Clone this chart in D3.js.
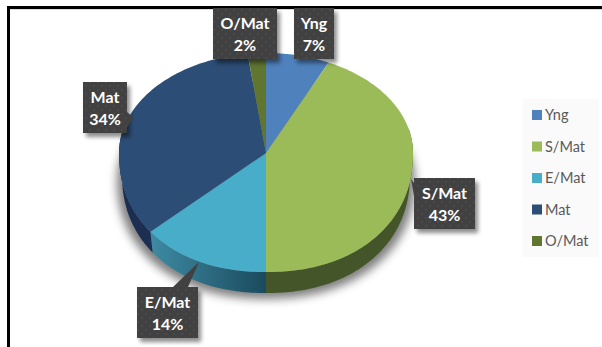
<!DOCTYPE html>
<html><head><meta charset="utf-8">
<script src="https://cdn.jsdelivr.net/npm/d3@7"></script>
<style>html,body{margin:0;padding:0;background:#fff}svg{display:block}</style>
</head><body><svg id="c" width="602" height="347"></svg>
<script>
const categories = ["Yng","S/Mat","E/Mat","Mat","O/Mat"];
const shares = [7,43,14,34,2];
const faceColors = ["#4f81bd","#9bbb59","#47adc9","#2c4d75","#5f7530"];
const wallColors = ["#2c4d75","#45552a","url(#tealWall)","#1c2f52","#3a481e"];
const labelBoxes = [[294,8,40,51],[414,178,61,51],[137,287,61,51],[83,82,44,51],[213,8,64,51]];
const pointers = [null,[[414,183],[411,179],[414,196]],[[173,287],[199,262],[188,287]],[[127,112],[134,118],[127,127]],null];

const svg = d3.select("#c");
const defs = svg.append("defs");
const blur = (id,s)=>defs.append("filter").attr("id",id).attr("x","-30%").attr("y","-30%").attr("width","160%").attr("height","160%")
  .append("feGaussianBlur").attr("stdDeviation",s);
blur("soft",5); blur("boxSoft",2);
const tg = defs.append("linearGradient").attr("id","tealWall").attr("gradientUnits","userSpaceOnUse")
  .attr("x1",145).attr("x2",266).attr("y1",0).attr("y2",0);
tg.append("stop").attr("offset",0).attr("stop-color","#3f8ea6");
tg.append("stop").attr("offset",1).attr("stop-color","#1b4a5e");
const pat = defs.append("pattern").attr("id","dots").attr("width",8).attr("height",8).attr("patternUnits","userSpaceOnUse");
pat.append("rect").attr("width",8).attr("height",8).attr("fill","#414141");
pat.append("circle").attr("cx",2).attr("cy",2).attr("r",.7).attr("fill","#585858");
pat.append("circle").attr("cx",6).attr("cy",6).attr("r",.7).attr("fill","#585858");

// frame
svg.append("rect").attr("x",7).attr("y",9).attr("width",595).attr("height",1).attr("fill","#ddd");
svg.append("rect").attr("x",7).attr("y",6).attr("width",595).attr("height",3).attr("fill","#000");
svg.append("rect").attr("x",7).attr("y",6).attr("width",3).attr("height",341).attr("fill","#000");

// projection of the tilted pie: the near half bulges because of perspective
const cx=266, cy=153, rx=147, ryTop=100, ryBottom=119, depth=21, rxBase=144, bulge=0.92;
const onRim=(a,off=0,r=rx)=>{
  const c=Math.cos(a), s=Math.sin(a);
  if(c>0) return [cx+r*s, cy+off-ryTop*c];
  return [cx+r*Math.sign(s)*Math.pow(Math.abs(s),bulge), cy+off+ryBottom*Math.pow(-c,bulge)];
};
const line=d3.line();
const arcPts=(a0,a1,off=0,r=rx)=>{
  const n=Math.max(2,Math.ceil((a1-a0)/0.02));
  return d3.range(n+1).map(i=>onRim(a0+(a1-a0)*i/n,off,r));
};
const arcs=d3.pie().sort(null)(shares);

// soft shadow
svg.append("path").attr("d",line(arcPts(0,2*Math.PI,depth+6,rx+2))+"Z").attr("fill","#000").attr("opacity",.5).attr("filter","url(#soft)");

// side wall
const lo=Math.PI/2-0.25, hi=3*Math.PI/2+0.25;
arcs.forEach((d,i)=>{
  const a0=Math.max(d.startAngle,lo), a1=Math.min(d.endAngle,hi);
  if(a1<=a0) return;
  const pts=arcPts(a0,a1).concat(arcPts(a0,a1,depth,rxBase).reverse());
  svg.append("path").attr("d",line(pts)+"Z").attr("fill",wallColors[i]);
});

// top face
arcs.forEach((d,i)=>{
  const pts=[[cx,cy]].concat(arcPts(d.startAngle,d.endAngle));
  svg.append("path").attr("d",line(pts)+"Z").attr("fill",faceColors[i]);
});

// data labels
categories.forEach((name,i)=>{
  const [x,y,w,h]=labelBoxes[i];
  const g=svg.append("g");
  g.append("rect").attr("x",x+3).attr("y",y+4).attr("width",w).attr("height",h).attr("fill","#000").attr("opacity",.45).attr("filter","url(#boxSoft)");
  if(pointers[i]) g.append("path").attr("d",line(pointers[i])+"Z").attr("fill","#414141");
  g.append("rect").attr("x",x).attr("y",y).attr("width",w).attr("height",h).attr("fill","url(#dots)");
  const t=g.append("text").attr("text-anchor","middle").attr("fill","#fff")
    .attr("font-family","Lato").attr("font-weight",700).attr("font-size",16);
  t.append("tspan").attr("x",x+w/2).attr("y",y+21).text(name);
  t.append("tspan").attr("x",x+w/2).attr("y",y+43).text(shares[i]+"%");
});

// legend
svg.append("rect").attr("x",523).attr("y",99).attr("width",76).attr("height",158).attr("fill","#fafafa");
const legendY=d3.scalePoint().domain(categories).range([115,241]);
categories.forEach((name,i)=>{
  svg.append("rect").attr("x",532).attr("y",legendY(name)-5).attr("width",10).attr("height",10).attr("fill",faceColors[i]);
  svg.append("text").attr("x",545).attr("y",legendY(name)+5).attr("fill","#595959")
    .attr("font-family","Lato").attr("font-size",14.5).text(name);
});
</script></body></html>
